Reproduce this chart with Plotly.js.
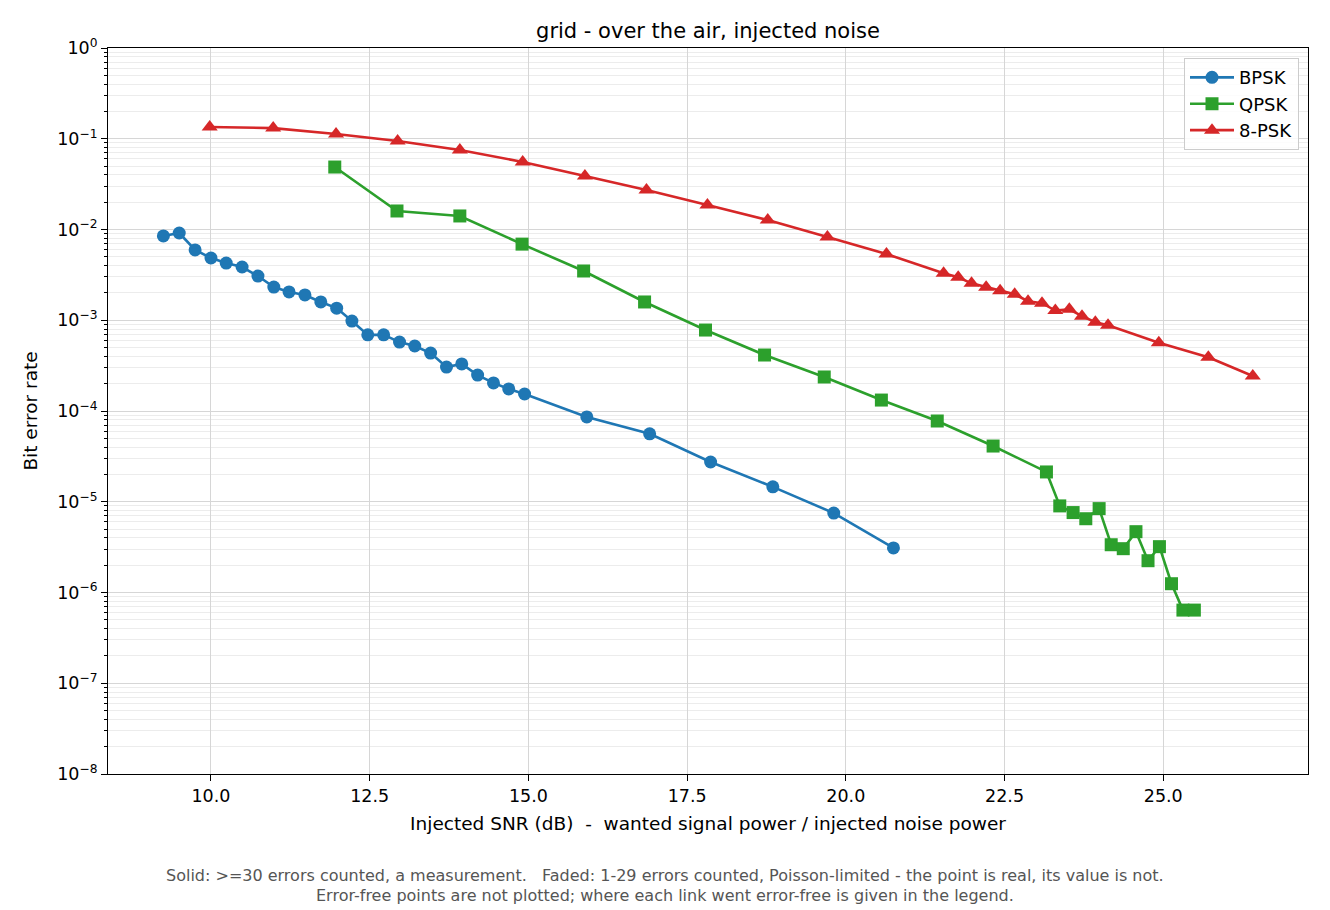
<!DOCTYPE html>
<html>
<head>
<meta charset="utf-8">
<script src="https://cdn.plot.ly/plotly-3.0.1.min.js"></script>
<style>
  html, body { margin: 0; padding: 0; background: #fff; }
  #chart { width: 1330px; height: 910px; }
</style>
</head>
<body>
<div id="chart"></div>
<script>
// ── Data ──────────────────────────────────────────────────────────────────
const bpskSnr = [9.25, 9.50, 9.75, 10.00, 10.24, 10.49, 10.74, 10.99, 11.23, 11.48,
                 11.73, 11.98, 12.22, 12.47, 12.72, 12.97, 13.21, 13.46, 13.71, 13.95,
                 14.20, 14.45, 14.69, 14.94, 15.92, 16.91, 17.87, 18.85, 19.81, 20.75];
const bpskBer = [8.5e-3, 9.15e-3, 5.95e-3, 4.85e-3, 4.27e-3, 3.86e-3, 3.07e-3, 2.32e-3, 2.05e-3, 1.90e-3,
                 1.59e-3, 1.36e-3, 9.8e-4, 6.9e-4, 6.9e-4, 5.75e-4, 5.2e-4, 4.35e-4, 3.05e-4, 3.3e-4,
                 2.49e-4, 2.04e-4, 1.75e-4, 1.54e-4, 8.6e-5, 5.6e-5, 2.74e-5, 1.46e-5, 7.5e-6, 3.1e-6];

const qpskSnr = [11.95, 12.93, 13.92, 14.90, 15.87, 16.83, 17.79, 18.72, 19.66, 20.56,
                 21.44, 22.32, 23.16, 23.37, 23.58, 23.78, 23.99, 24.18, 24.37, 24.57,
                 24.76, 24.94, 25.13, 25.31, 25.49];
const qpskBer = [4.88e-2, 1.6e-2, 1.41e-2, 6.9e-3, 3.49e-3, 1.59e-3, 7.8e-4, 4.14e-4, 2.37e-4, 1.32e-4,
                 7.76e-5, 4.11e-5, 2.13e-5, 9.0e-6, 7.6e-6, 6.5e-6, 8.4e-6, 3.36e-6, 3.04e-6, 4.68e-6,
                 2.24e-6, 3.2e-6, 1.25e-6, 6.4e-7, 6.4e-7];

const psk8Snr = [9.98, 10.98, 11.97, 12.94, 13.92, 14.91, 15.89, 16.86, 17.82, 18.77,
                 19.71, 20.64, 21.54, 21.77, 21.98, 22.21, 22.43, 22.66, 22.87, 23.09,
                 23.30, 23.52, 23.72, 23.93, 24.13, 24.93, 25.71, 26.41];
const psk8Ber = [0.1347, 0.131, 0.113, 0.0944, 0.0752, 0.0555, 0.0389, 0.0272, 0.0186, 0.0127,
                 8.26e-3, 5.37e-3, 3.29e-3, 2.97e-3, 2.55e-3, 2.31e-3, 2.12e-3, 1.93e-3, 1.62e-3, 1.54e-3,
                 1.28e-3, 1.32e-3, 1.11e-3, 9.5e-4, 8.8e-4, 5.66e-4, 3.91e-4, 2.43e-4];

const xTickVals = [10, 12.5, 15, 17.5, 20, 22.5, 25];
const yTickVals = [1e-8, 1e-7, 1e-6, 1e-5, 1e-4, 1e-3, 1e-2, 1e-1, 1e0];
const yTickText = ['10<sup>\u22128</sup>', '10<sup>\u22127</sup>', '10<sup>\u22126</sup>',
                   '10<sup>\u22125</sup>', '10<sup>\u22124</sup>', '10<sup>\u22123</sup>',
                   '10<sup>\u22122</sup>', '10<sup>\u22121</sup>', '10<sup>0</sup>'];

const footLines = [
  'Solid: >=30 errors counted, a measurement.\u00a0\u00a0\u00a0Faded: 1-29 errors counted, Poisson-limited - the point is real, its value is not.',
  'Error-free points are not plotted; where each link went error-free is given in the legend.'
];

// ── Traces ────────────────────────────────────────────────────────────────
function series(name, x, y, color, symbol, size) {
  return {
    x: x, y: y, name: name,
    type: 'scatter', mode: 'lines+markers',
    line: {color: color, width: 2.6},
    marker: {color: color, symbol: symbol, size: size},
  };
}

const traces = [
  series('BPSK',  bpskSnr, bpskBer, '#1f77b4', 'circle', 13),
  series('QPSK',  qpskSnr, qpskBer, '#2ca02c', 'square', 13),
  series('8-PSK', psk8Snr, psk8Ber, '#d62728', 'triangle-up', 14),
];

const font = 'DejaVu Sans, sans-serif';

const layout = {
  width: 1330, height: 910,
  margin: {l: 108, r: 22, t: 48, b: 136},
  paper_bgcolor: '#fff',
  plot_bgcolor: '#fff',
  font: {family: font, color: '#000', size: 17.5},
  title: {
    text: 'grid - over the air, injected noise',
    font: {size: 21},
    x: 0.5, xref: 'paper', xanchor: 'center',
    y: 1 - 31 / 910, yref: 'container', yanchor: 'middle',
  },
  xaxis: {
    range: [8.378, 27.28],
    tickvals: xTickVals,
    tickformat: '.1f',
    ticks: 'outside', ticklen: 6, tickcolor: '#000',
    showgrid: true, gridcolor: '#d6d6d6', gridwidth: 1,
    zeroline: false,
    showline: true, linecolor: '#000', linewidth: 1, mirror: true,
    tickfont: {size: 17.5},
    title: {
      text: 'Injected SNR (dB) \u00a0-\u00a0 wanted signal power / injected noise power',
      font: {size: 18.5}, standoff: 12,
    },
  },
  yaxis: {
    type: 'log',
    range: [-8, 0],
    tickvals: yTickVals,
    ticktext: yTickText,
    ticks: 'outside', ticklen: 6, tickcolor: '#000',
    showgrid: true, gridcolor: '#d6d6d6', gridwidth: 1,
    minor: {
      dtick: 'D1', showgrid: true, gridcolor: '#ececec', gridwidth: 1,
      ticks: 'outside', ticklen: 3, tickcolor: '#000',
    },
    zeroline: false,
    showline: true, linecolor: '#000', linewidth: 1, mirror: true,
    tickfont: {size: 17.5},
    title: {text: 'Bit error rate', font: {size: 18.5}, standoff: 14},
  },
  legend: {
    x: 0.9925, y: 0.986, xanchor: 'right', yanchor: 'top',
    bgcolor: 'rgba(255,255,255,0.85)',
    bordercolor: '#cccccc', borderwidth: 1,
    font: {size: 18},
    itemwidth: 44,
  },
  annotations: footLines.map((t, i) => ({
    text: t, xref: 'paper', yref: 'paper',
    x: (665 - 108) / 1200, y: 0, yshift: -(101 + i * 20), xanchor: 'center', yanchor: 'middle',
    showarrow: false, font: {size: 16, color: '#555'},
  })),
  showlegend: true,
};

Plotly.newPlot('chart', traces, layout, {displayModeBar: false, responsive: false});
</script>
</body>
</html>
